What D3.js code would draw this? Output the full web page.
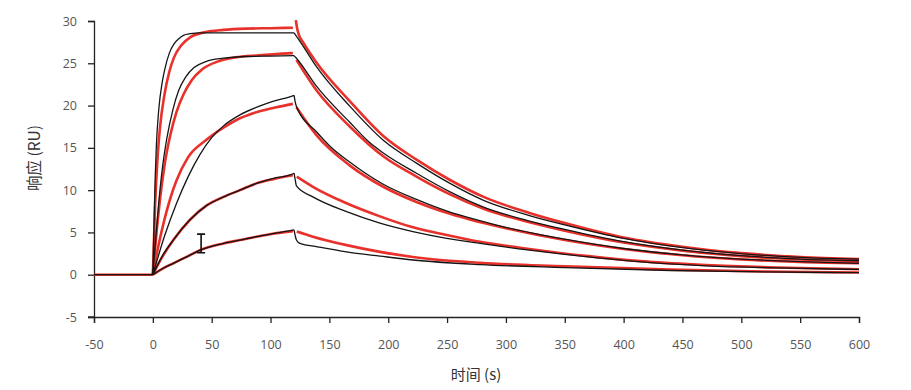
<!DOCTYPE html>
<html><head><meta charset="utf-8">
<script src="https://cdn.jsdelivr.net/npm/d3@7"></script>
<style>body{margin:0;background:#fff}svg{display:block}</style>
</head><body>
<svg id="c" width="911" height="390"></svg>
<script>
// ---- data (time s, response RU) ----
const xTicks = [-50,0,50,100,150,200,250,300,350,400,450,500,550,600];
const yTicks = [-5,0,5,10,15,20,25,30];
const xLabel = "时间 (s)";
const yLabel = "响应 (RU)";

const baseline = [[-50,0],[0,0]];

// measured (black) association
const blackA1 = [[0,0],[1,6],[2,11.5],[3,15.3],[5,19.5],[8,22.8],[10,24.2],[14,26.2],[18,27.3],[22,27.9],[26,28.3],[32,28.5],[40,28.6],[70,28.6],[120,28.6]];
const blackA2 = [[0,0],[2,3.5],[5,8.5],[8,12.5],[12,16.2],[17,19.5],[22,21.8],[28,23.4],[35,24.5],[45,25.2],[60,25.6],[80,25.8],[100,25.85],[120,25.9]];
const blackA3 = [[0,0],[10,4.6],[20,8.4],[30,11.6],[40,14.2],[50,16.2],[60,17.6],[74,18.9],[90,19.9],[102,20.5],[117,21.05],[120,21.2]];
const blackA4 = [[0,0],[8,2.2],[17.4,4.1],[31.6,6.5],[45.8,8.2],[60,9.2],[74,10.0],[88,10.8],[102.4,11.4],[116.6,11.8],[120,12.0]];
const blackA5 = [[0,0],[8,0.7],[17.4,1.35],[30,2.2],[40,2.9],[60,3.7],[74,4.1],[88,4.5],[102,4.85],[116.6,5.2],[120,5.3]];

// measured (black) dissociation
const blackD1 = [[120,28.6],[125,27.6],[139,24.6],[167.5,19.9],[195.8,15.9],[224,13.2],[252.5,10.8],[281,8.8],[320,7.0],[350,5.9],[400,4.3],[450,3.2],[500,2.5],[550,2.05],[600,1.85]];
const blackD2 = [[120,25.9],[122,25.6],[139,22.3],[167.5,18.0],[184.5,15.6],[195.8,14.4],[224,12.0],[252.5,9.8],[281,8.0],[320,6.35],[350,5.35],[400,3.9],[450,2.9],[500,2.25],[550,1.85],[600,1.65]];
const blackD3 = [[120,21.2],[121,20.4],[122,19.9],[139,16.9],[150.5,15.2],[167.5,13.3],[195.8,10.7],[224,8.9],[252.5,7.4],[270,6.7],[300,5.6],[350,4.2],[400,3.1],[450,2.35],[500,1.85],[550,1.55],[600,1.35]];
const blackD4 = [[120,12.0],[121,11.2],[122,10.5],[136,9.2],[164.6,7.45],[193,6.1],[221,5.1],[249.7,4.3],[278,3.7],[320,2.9],[370,2.1],[420,1.45],[470,1.05],[530,0.8],[600,0.62]];
const blackD5 = [[120,5.3],[121,4.6],[122,4.1],[125,3.7],[140,3.3],[164.6,2.7],[193,2.2],[221,1.74],[278,1.2],[350,0.85],[440,0.5],[520,0.33],[600,0.24]];

// fitted (red) association
const redA1 = [[0,0],[2,8.5],[4,13.8],[6,17.3],[10,21.4],[14,24],[18,25.7],[24,27.1],[32,28.1],[45,28.7],[60,28.95],[80,29.1],[100,29.15],[119,29.2]];
const redA2 = [[0,0],[3,4.8],[6,8.8],[10,13],[15,16.6],[20,19.2],[26,21.3],[33,23],[42,24.3],[55,25.2],[70,25.7],[90,25.95],[119,26.2]];
const redA3 = [[0,0],[5,3.6],[10,6.6],[15,9.1],[20,11.1],[30,13.9],[45,15.9],[60,17.4],[74,18.5],[90,19.3],[105,19.8],[119,20.2]];
const redA4 = [[0,0],[8,2.1],[17.4,4.1],[31.6,6.5],[45.8,8.2],[60,9.2],[74,10.0],[88,10.8],[102.4,11.3],[119,11.75]];
const redA5 = [[0,0],[8,0.7],[17.4,1.35],[30,2.2],[40,2.9],[60,3.7],[74,4.1],[88,4.5],[102,4.85],[119,5.15]];

// fitted (red) dissociation
const redD1 = [[121.5,30.1],[122.5,29.2],[124,28.4],[128,27.4],[139,25.1],[167.5,20.5],[195.8,16.4],[224,13.6],[252.5,11.2],[281,9.2],[320,7.3],[350,6.1],[400,4.4],[450,3.3],[500,2.55],[550,2.1],[600,1.85]];
const redD2 = [[122,25.4],[139,21.8],[167.5,17.5],[195.8,14.0],[224,11.6],[252.5,9.5],[281,7.8],[320,6.2],[350,5.2],[400,3.8],[450,2.85],[500,2.2],[550,1.8],[600,1.6]];
const redD3 = [[122,19.8],[139,16.5],[167.5,12.9],[195.8,10.4],[224,8.6],[252.5,7.2],[270,6.5],[300,5.5],[350,4.1],[400,3.05],[450,2.3],[500,1.8],[550,1.5],[600,1.35]];
const redD4 = [[122.3,11.6],[136,10.4],[164.6,8.45],[193,6.9],[221,5.6],[249.7,4.7],[278,3.9],[320,3.05],[370,2.2],[420,1.55],[470,1.15],[530,0.85],[600,0.65]];
const redD5 = [[122.3,5.1],[136,4.5],[164.6,3.5],[193,2.7],[221,2.1],[278,1.4],[350,1.0],[440,0.6],[520,0.38],[600,0.27]];

const cursorMark = {t:41, lo:2.6, hi:4.8};

// ---- drawing ----
const svg = d3.select("#c");
const x = d3.scaleLinear().domain([-50,600]).range([94,859]);
const y = d3.scaleLinear().domain([-5,30]).range([317,21]);
const tickFont = "'Open Sans', 'Liberation Sans', sans-serif";
const fmt = d => String(d);

const gx = svg.append("g").attr("transform","translate(0,317)")
  .call(d3.axisBottom(x).tickValues(xTicks).tickSize(6).tickPadding(17).tickFormat(fmt));
const gy = svg.append("g").attr("transform","translate(94,0)")
  .call(d3.axisLeft(y).tickValues(yTicks).tickSize(6).tickPadding(11).tickFormat(fmt));
[gx,gy].forEach(g=>{
  g.select(".domain").attr("stroke","#222").attr("stroke-width",1.3);
  g.selectAll(".tick line").attr("stroke","#222").attr("stroke-width",1.3);
  g.selectAll(".tick text").attr("fill","#555").style("font-family",tickFont).style("font-size","12.5px");
});
svg.append("line").attr("x1",88).attr("x2",94).attr("y1",317).attr("y2",317).attr("stroke","#222").attr("stroke-width",1.3);

svg.append("text").attr("x",476).attr("y",380).attr("text-anchor","middle")
  .style("font-family","'Noto Sans CJK SC', sans-serif").style("font-size","15px").attr("fill","#333").text(xLabel);
svg.append("text").attr("transform","translate(40,158) rotate(-90)").attr("text-anchor","middle")
  .style("font-family","'Noto Sans CJK SC', sans-serif").style("font-size","15.5px").attr("fill","#333").text(yLabel);

const line = d3.line().x(d=>x(d[0])).y(d=>y(d[1])).curve(d3.curveMonotoneX);
const reds = [baseline, redA1, redA2, redA3, redA4, redA5, redD1, redD2, redD3, redD4, redD5];
const blacks = [baseline, blackA1, blackA2, blackA3, blackA4, blackA5, blackD1, blackD2, blackD3, blackD4, blackD5];
svg.append("g").selectAll("path").data(reds).join("path")
  .attr("d",line).attr("fill","none").attr("stroke","#e8312b").attr("stroke-width",2.6);
svg.append("g").selectAll("path").data(blacks).join("path")
  .attr("d",line).attr("fill","none").attr("stroke","#151515").attr("stroke-width",1.3);

// I-beam mark
const cx = x(cursorMark.t);
svg.append("path").attr("d",
  `M${cx-4},${y(cursorMark.hi)}H${cx+4}M${cx},${y(cursorMark.hi)}V${y(cursorMark.lo)}M${cx-4},${y(cursorMark.lo)}H${cx+4}`)
  .attr("stroke","#111").attr("stroke-width",1.6).attr("fill","none");
</script>
</body></html>
